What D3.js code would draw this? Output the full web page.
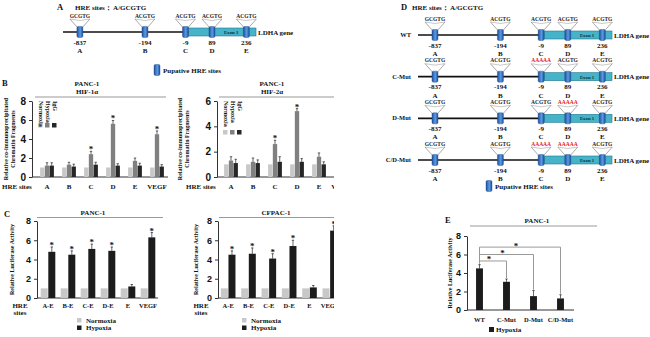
<!DOCTYPE html>
<html>
<head>
<meta charset="utf-8">
<script src="https://cdn.jsdelivr.net/npm/d3@7"></script>
<style>
  body { margin: 0; background: #fff; }
  svg { display: block; }
  text { font-family: "Liberation Serif", "Times New Roman", serif; font-weight: bold; fill: #111; }
  .tick text { font-family: "Liberation Sans", Arial, sans-serif; }
</style>
</head>
<body>
<div id="fig"></div>
<script>
// promoter schematic
const hreSites = ["A", "B", "C", "D", "E"];
const hrePositions = [-837, -194, -9, 89, 236];
const hreSeqs = ["GCGTG", "ACGTG", "ACGTG", "ACGTG", "ACGTG"];
const mutRows = ["WT", "C-Mut", "D-Mut", "C/D-Mut"];
const mutatedSites = [[], ["C"], ["D"], ["C", "D"]];

// ChIP (panel B)
const chipSites = ["A", "B", "C", "D", "E", "VEGF"];
const chipSeries = ["Normoxia", "Hypoxia", "IgG"];
const hif1aNormoxia = [1, 1, 1, 1, 1, 1];
const hif1aHypoxia = [1.2, 1.3, 2.4, 5.6, 1.7, 4.5];
const hif1aIgG = [1.2, 1.1, 1.3, 1.2, 1.2, 1.1];
const hif1aHypoxiaErr = [0.3, 0.25, 0.3, 0.35, 0.3, 0.35];
const hif1aIgGErr = [0.3, 0.25, 0.25, 0.2, 0.25, 0.2];
const hif1aStars = ["C", "D", "VEGF"];
const hif2aNormoxia = [1, 1, 1, 1, 1, 1];
const hif2aHypoxia = [1.3, 1.2, 2.6, 5.2, 1.6, 4.8];
const hif2aIgG = [1.1, 1.1, 1.2, 1.2, 1.0, 1.1];
const hif2aHypoxiaErr = [0.3, 0.3, 0.3, 0.2, 0.3, 0.3];
const hif2aIgGErr = [0.3, 0.25, 0.4, 0.25, 0.2, 0.2];
const hif2aStars = ["C", "D", "VEGF"];

// luciferase (panel C)
const lucSites = ["A-E", "B-E", "C-E", "D-E", "E", "VEGF"];
const lucSeries = ["Normoxia", "Hypoxia"];
const panc1Normoxia = [1, 1, 1, 1, 1, 1];
const panc1Hypoxia = [4.8, 4.5, 5.1, 4.9, 1.2, 6.3];
const panc1HypoxiaErr = [0.5, 0.4, 0.5, 0.4, 0.2, 0.5];
const cfpac1Normoxia = [1, 1, 1, 1, 1, 1];
const cfpac1Hypoxia = [4.5, 4.6, 4.1, 5.4, 1.1, 7.0];
const cfpac1HypoxiaErr = [0.4, 0.6, 0.5, 0.6, 0.2, 0.5];
const lucStars = ["A-E", "B-E", "C-E", "D-E", "VEGF"];

// mutants (panel E)
const mutHypoxia = [4.5, 3.05, 1.5, 1.25];
const mutHypoxiaErr = [0.4, 0.3, 0.6, 0.4];
const mutBrackets = [["C-Mut", 5.3], ["D-Mut", 6.0], ["C/D-Mut", 6.8]];

const width = 650, height = 337;
const colNorm = "#c8c8c8", colHypoB = "#808080", colIgG = "#262626", colHypo = "#1c1c1c";

const svg = d3.select("#fig").append("svg")
    .attr("width", width)
    .attr("height", height);

const defs = svg.append("defs");
const grad = defs.append("linearGradient").attr("id", "siteGrad")
    .attr("x1", "0%").attr("x2", "100%");
grad.append("stop").attr("offset", "0%").attr("stop-color", "#1d4f9c");
grad.append("stop").attr("offset", "55%").attr("stop-color", "#5b9be0");
grad.append("stop").attr("offset", "100%").attr("stop-color", "#1d4f9c");
defs.append("clipPath").attr("id", "clipRight")
    .append("rect").attr("x", 160).attr("y", 70).attr("width", 174).attr("height", 267);

function label(g, x, y, txt, size, anchor) {
    return g.append("text").attr("x", x).attr("y", y)
        .attr("text-anchor", anchor || "start")
        .style("font-size", size + "px").text(txt);
}

function siteBox(g, x, y) {
    g.append("rect").attr("x", x - 3).attr("y", y - 5.5).attr("width", 6).attr("height", 11)
        .attr("rx", 1.4).attr("fill", "url(#siteGrad)").attr("stroke", "#1b4790").attr("stroke-width", 0.4);
}

// ---------- gene schematic ----------
const siteFrac = [0.088, 0.427, 0.638, 0.776, 0.955];

function geneMap(g, x0, x1, y, mutated, showLetters) {
    const w = x1 - x0;
    const x = d3.scaleLinear().domain(hrePositions).range(siteFrac.map(f => x0 + f * w));
    g.append("line").attr("x1", x0).attr("x2", x1).attr("y1", y).attr("y2", y)
        .attr("stroke", "#111").attr("stroke-width", 1.6);
    const ex0 = x(-9) + 3;
    g.append("rect").attr("x", ex0).attr("y", y - 4).attr("width", x1 + 1 - ex0).attr("height", 8)
        .attr("fill", "#45b3c9").attr("stroke", "#23788c").attr("stroke-width", 0.6);
    label(g, (x(89) + x(236)) / 2 + 2, y + 2, "Exon 1", 4.8, "middle").style("fill", "#0d3340");
    label(g, x1 + 3, y + 2.5, "LDHA gene", 7);

    hreSites.forEach((s, i) => {
        const sx = x(hrePositions[i]);
        const isMut = mutated.includes(s);
        g.append("path")
            .attr("d", `M${sx - 10},${y - 13} L${sx - 2},${y - 4} M${sx + 10},${y - 13} L${sx + 2},${y - 4}`)
            .attr("stroke", "#555").attr("stroke-width", 0.5).attr("fill", "none");
        g.append("path")
            .attr("d", `M${sx - 10},${y - 13} Q${sx},${y - 10} ${sx + 10},${y - 13}`)
            .attr("stroke", "#777").attr("stroke-width", 0.4).attr("fill", "none");
        label(g, sx, y - 14.5, isMut ? "AAAAA" : hreSeqs[i], 5.5, "middle")
            .style("fill", isMut ? "#e8141c" : "#222");
        siteBox(g, sx, y);
        label(g, sx, y + 12.5, hrePositions[i], 7, "middle");
        if (showLetters) label(g, sx, y + 21, s, 7, "middle");
    });
}

// panel A
const gA = svg.append("g");
label(gA, 57, 10, "A", 8.5);
label(gA, 75, 10, "HRE sites： A/GCGTG", 7);
geneMap(gA, 63, 255, 32, [], true);
siteBox(gA, 157, 70);
label(gA, 163, 72.5, "Pupative HRE sites", 7);

// panel D
const gD = svg.append("g");
label(gD, 401, 10, "D", 8.5);
label(gD, 412, 10, "HRE sites： A/GCGTG", 7);
const rowY = d3.scalePoint().domain(mutRows).range([35, 160]);
mutRows.forEach((r, i) => {
    label(gD, 411, rowY(r) + 2, r, 6.5, "end");
    geneMap(gD, 418, 611, rowY(r), mutatedSites[i], true);
});
siteBox(gD, 489, 186);
label(gD, 495, 188.5, "Pupative HRE sites", 7);

// ---------- bar charts ----------
function barChart(o) {
    const g = svg.append("g");
    const plot = o.clip ? g.append("g").attr("clip-path", "url(#clipRight)") : g;
    const y = d3.scaleLinear().domain([0, o.yMax]).range([o.y0, o.y1]);
    const x = d3.scaleBand().domain(o.cats).range(o.xRange);
    const sub = d3.scaleBand().domain(o.series.map(s => s.name))
        .range([-o.barW * o.series.length / 2, o.barW * o.series.length / 2]).paddingInner(0.08);

    // title block
    label(plot, o.titleX, o.titleY, o.title, 7, "middle");
    if (o.subtitle) label(plot, o.titleX, o.titleY + 8, o.subtitle, 7, "middle");
    plot.append("line").attr("x1", o.lineX[0]).attr("x2", o.lineX[1])
        .attr("y1", o.lineY).attr("y2", o.lineY).attr("stroke", "#999").attr("stroke-width", 1.2);

    // y axis
    g.append("g").attr("transform", `translate(${o.axisX},0)`)
        .call(d3.axisLeft(y).tickValues(d3.range(0, o.yMax + 1, 2)).tickFormat(d3.format("d"))
            .tickSize(3).tickSizeOuter(0))
        .call(a => a.selectAll("text").style("font-size", o.tickSize + "px").style("font-weight", "bold"))
        .call(a => a.select(".domain").attr("stroke", "#333"))
        .call(a => a.selectAll(".tick line").attr("stroke", "#333"));
    plot.append("line").attr("x1", o.axisX).attr("x2", o.xRange[1]).attr("y1", y(0)).attr("y2", y(0))
        .attr("stroke", "#333").attr("stroke-width", 1);

    // y label
    const yl = g.append("text").attr("transform", `translate(${o.yLabelX},${(o.y0 + o.y1) / 2}) rotate(-90)`)
        .attr("text-anchor", "middle").style("font-size", "6px");
    o.yLabel.forEach((t, i) => yl.append("tspan").attr("x", 0).attr("dy", i ? 7 : 0).text(t));

    // bars
    o.series.forEach(s => {
        const bars = plot.append("g");
        o.cats.forEach((c, i) => {
            const bx = x(c) + x.bandwidth() / 2 + sub(s.name);
            const v = s.values[i];
            bars.append("rect").attr("x", bx).attr("y", y(v))
                .attr("width", sub.bandwidth()).attr("height", y(0) - y(v)).attr("fill", s.color);
            if (s.err) {
                const cx = bx + sub.bandwidth() / 2, top = y(v + s.err[i]);
                bars.append("path")
                    .attr("d", `M${cx},${y(v)} V${top} M${cx - 1.2},${top} H${cx + 1.2}`)
                    .attr("stroke", "#000").attr("stroke-width", 0.6);
                if (s.stars && s.stars.includes(c))
                    label(bars, cx, top + 1, "*", 9, "middle");
            }
        });
    });

    // category labels
    o.cats.forEach(c => label(plot, x(c) + x.bandwidth() / 2, o.catY, c, o.catSize || 7, "middle"));
    o.siteLabel.forEach((t, i) => label(g, o.siteLabelX, o.catY + i * 7, t, 7, o.siteAnchor));
    return { g, plot, x, y };
}

// panel B
label(svg, 2, 86, "B", 8.5);
const bLeft = barChart({
    cats: chipSites, yMax: 8, y0: 177, y1: 101, xRange: [36, 168], axisX: 32, barW: 4.6,
    series: [
        { name: "Normoxia", values: hif1aNormoxia, color: colNorm },
        { name: "Hypoxia", values: hif1aHypoxia, color: colHypoB, err: hif1aHypoxiaErr, stars: hif1aStars },
        { name: "IgG", values: hif1aIgG, color: colIgG, err: hif1aIgGErr }
    ],
    title: "PANC-1", subtitle: "HIF-1α", titleX: 87, titleY: 86, lineY: 97, lineX: [35, 166],
    tickSize: 10, yLabelX: 8, yLabel: ["Relative co-immunoprecipitated", "Chromatin Fragments"],
    catY: 189, siteLabel: ["HRE sites"], siteLabelX: 2, siteAnchor: "start"
});
const bRight = barChart({
    cats: chipSites, yMax: 6, y0: 177, y1: 101, xRange: [220, 352], axisX: 217, barW: 4.6, clip: true,
    series: [
        { name: "Normoxia", values: hif2aNormoxia, color: colNorm },
        { name: "Hypoxia", values: hif2aHypoxia, color: colHypoB, err: hif2aHypoxiaErr, stars: hif2aStars },
        { name: "IgG", values: hif2aIgG, color: colIgG, err: hif2aIgGErr }
    ],
    title: "PANC-1", subtitle: "HIF-2α", titleX: 272, titleY: 86, lineY: 97, lineX: [219, 340],
    tickSize: 10, yLabelX: 182, yLabel: ["Relative co-immunoprecipitated", "Chromatin Fragments"],
    catY: 189, siteLabel: ["HRE sites"], siteLabelX: 186, siteAnchor: "start"
});

// rotated legends inside panel B
function rotLegend(g, x0, yTop, ySq, items) {
    items.forEach((it, i) => {
        const lx = x0 + i * 7;
        g.append("rect").attr("x", lx).attr("y", ySq).attr("width", 4.5).attr("height", 4.5).attr("fill", it.color);
        g.append("text").attr("transform", `translate(${lx + 0.5},${yTop}) rotate(90)`)
            .style("font-size", "6px").text(it.name);
    });
}
rotLegend(bLeft.g, 38, 101, 123, [
    { name: "Normoxia", color: colNorm }, { name: "Hypoxia", color: colHypoB }, { name: "IgG", color: colIgG }]);
rotLegend(bRight.g, 223, 101, 130, [
    { name: "Normoxia", color: colNorm }, { name: "Hypoxia", color: colHypoB }, { name: "IgG", color: colIgG }]);

// panel C
label(svg, 4, 217, "C", 8.5);
function lucLegend(g, x0) {
    [["Normoxia", colNorm], ["Hypoxia", colHypo]].forEach(([n, c], i) => {
        g.append("rect").attr("x", x0).attr("y", 318 + i * 7.5).attr("width", 4.5).attr("height", 4.5).attr("fill", c);
        label(g, x0 + 9, 322.5 + i * 7.5, n, 7);
    });
}
const cLeft = barChart({
    cats: lucSites, yMax: 8, y0: 298, y1: 221, xRange: [38, 158], axisX: 37, barW: 7.3,
    series: [
        { name: "Normoxia", values: panc1Normoxia, color: colNorm },
        { name: "Hypoxia", values: panc1Hypoxia, color: colHypo, err: panc1HypoxiaErr, stars: lucStars }
    ],
    title: "PANC-1", titleX: 93, titleY: 215, lineY: 217.5, lineX: [37, 163],
    tickSize: 9, yLabelX: 14, yLabel: ["Relative Luciferase Activity"],
    catY: 308, catSize: 6.5, siteLabel: ["HRE", "sites"], siteLabelX: 20, siteAnchor: "middle"
});
lucLegend(cLeft.g, 77);
const cRight = barChart({
    cats: lucSites, yMax: 8, y0: 298, y1: 221, xRange: [218, 340], axisX: 218, barW: 7.3, clip: true,
    series: [
        { name: "Normoxia", values: cfpac1Normoxia, color: colNorm },
        { name: "Hypoxia", values: cfpac1Hypoxia, color: colHypo, err: cfpac1HypoxiaErr, stars: lucStars }
    ],
    title: "CFPAC-1", titleX: 276, titleY: 215, lineY: 217.5, lineX: [219, 340],
    tickSize: 9, yLabelX: 198, yLabel: ["Relative Luciferase Activity"],
    catY: 308, catSize: 6.5, siteLabel: ["HRE", "sites"], siteLabelX: 201, siteAnchor: "middle"
});
lucLegend(cRight.g, 242);

// panel E
label(svg, 445, 223, "E", 8.5);
const eChart = barChart({
    cats: mutRows, yMax: 8, y0: 310, y1: 236, xRange: [466, 574], axisX: 467, barW: 7.5,
    series: [{ name: "Hypoxia", values: mutHypoxia, color: colHypo, err: mutHypoxiaErr }],
    title: "PANC-1", titleX: 537, titleY: 223, lineY: 226, lineX: [470, 597],
    tickSize: 9, yLabelX: 452, yLabel: ["Relative Luciferase Activity"],
    catY: 322, catSize: 6.5, siteLabel: [], siteLabelX: 0
});
{
    const { g, x, y } = eChart;
    const cx = c => x(c) + x.bandwidth() / 2;
    const topB = d3.max(mutBrackets, d => d[1]);
    g.append("line").attr("x1", cx("WT")).attr("x2", cx("WT"))
        .attr("y1", y(mutHypoxia[0] + mutHypoxiaErr[0] + 0.1)).attr("y2", y(topB))
        .attr("stroke", "#999").attr("stroke-width", 1);
    mutBrackets.forEach(([c, lvl]) => {
        const i = mutRows.indexOf(c);
        g.append("path")
            .attr("d", `M${cx("WT")},${y(lvl)} H${cx(c)} V${y(mutHypoxia[i] + mutHypoxiaErr[i] + 0.1)}`)
            .attr("fill", "none").attr("stroke", "#999").attr("stroke-width", 1);
        label(g, (cx("WT") + cx(c)) / 2 - 4, y(lvl) + 1.5, "*", 9, "middle");
    });
    g.append("rect").attr("x", 489).attr("y", 327).attr("width", 5).attr("height", 5).attr("fill", colHypo);
    label(g, 496, 332, "Hypoxia", 7);
}
</script>
</body>
</html>
